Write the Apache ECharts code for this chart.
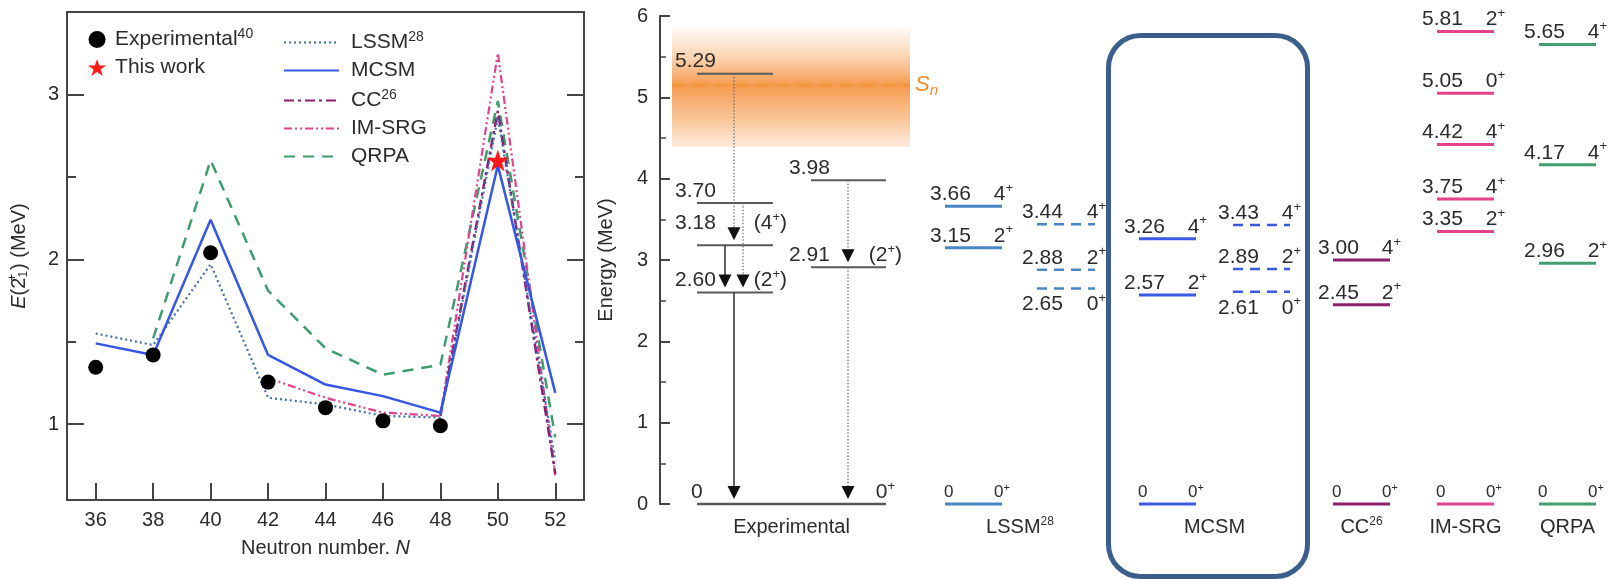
<!DOCTYPE html>
<html>
<head>
<meta charset="utf-8">
<script src="https://cdn.jsdelivr.net/npm/echarts@6/dist/echarts.min.js"></script>
<style>
  html, body { margin: 0; padding: 0; background: #fff; }
  #chart { width: 1615px; height: 579px; }
</style>
</head>
<body>
<div id="chart"></div>
<script>
// ---------- Left panel: E(2+1) systematics of the Ni isotopes ----------
const neutronNumbers = [36, 38, 40, 42, 44, 46, 48, 50, 52];
const expN = [36, 38, 40, 42, 44, 46, 48];
const expE2 = [1.345, 1.42, 2.04, 1.255, 1.10, 1.02, 0.99];
const thisWorkN = [50];
const thisWorkE2 = [2.60];
const lssmE2 = [1.55, 1.48, 1.97, 1.16, 1.12, 1.05, 1.04, 2.86, 0.78];
const mcsmE2 = [1.49, 1.42, 2.24, 1.42, 1.24, 1.17, 1.07, 2.57, 1.19];
const ccN = [48, 50, 52];
const ccE2 = [1.05, 2.90, 0.70];
const imsrgN = [42, 44, 46, 48, 50, 52];
const imsrgE2 = [1.28, 1.16, 1.07, 1.05, 3.25, 0.69];
const qrpaN = [38, 40, 42, 44, 46, 48, 50, 52];
const qrpaE2 = [1.52, 2.60, 1.81, 1.46, 1.30, 1.36, 2.96, 0.92];
const e2MajorTicks = [1, 2, 3];
const e2MinorTicks = [1.5, 2.5];

// ---------- Right panel: level scheme of 78Ni ----------
const expLevelsA = [5.29, 3.70, 3.18, 2.60];
const expSpinsA = ['', '', '(4+)', '(2+)'];
const expLevelsB = [3.98, 2.91];
const expSpinsB = ['', '(2+)'];
const expGround = [0];
const expGroundSpin = ['0+'];
const gammaFrom = [5.29, 3.70, 3.18, 2.60, 3.98, 2.91];
const gammaTo   = [3.18, 2.60, 2.60, 0,    2.91, 0];
const lssmLevels = [0, 3.15, 3.66];
const lssmSpins = ['0+', '2+', '4+'];
const lssmLevels2 = [2.65, 2.88, 3.44];
const lssmSpins2 = ['0+', '2+', '4+'];
const mcsmLevels = [0, 2.57, 3.26];
const mcsmSpins = ['0+', '2+', '4+'];
const mcsmLevels2 = [2.61, 2.89, 3.43];
const mcsmSpins2 = ['0+', '2+', '4+'];
const ccLevels = [0, 2.45, 3.00];
const ccSpins = ['0+', '2+', '4+'];
const imsrgLevels = [0, 3.35, 3.75, 4.42, 5.05, 5.81];
const imsrgSpins = ['0+', '2+', '4+', '4+', '0+', '2+'];
const qrpaLevels = [0, 2.96, 4.17, 5.65];
const qrpaSpins = ['0+', '2+', '4+', '4+'];
const snEnergy = [5.15];
const snBand = [4.39, 5.86];
const schemeGroups = ['Experimental', 'LSSM', 'MCSM', 'CC', 'IM-SRG', 'QRPA'];
const groupRefs = ['', '28', '', '26', '', ''];

// ---------- styling / layout ----------
const FONT = '"Liberation Sans", Arial, Helvetica, sans-serif';
const TXT = '#2b2b2b';
const AX = '#444';
const LVL_FS = 21;
const C = {
  lssm: '#3f6fb3', mcsm: '#3556e6', cc: '#8d1d70', imsrg: '#e2428d', qrpa: '#3f9c6c',
  lssmLvl: '#4a86c6', mcsmLvl: '#3a5ae2', ccLvl: '#8e1f6f', imsrgLvl: '#e4438c', qrpaLvl: '#42a070',
  expLvl: '#5a5a5a', orange: '#f28c2e'
};
// horizontal slots of the level-scheme columns (x axis of the right grid is in pixels)
const slot = {
  expA: [697, 773], expB: [811, 886], exp0: [697, 886],
  lssm: [945, 1002], lssm2: [1037, 1095],
  mcsm: [1139, 1196], mcsm2: [1233, 1290],
  cc: [1333, 1390], imsrg: [1437, 1494], qrpa: [1539, 1596],
  band: [672, 910]
};
// height of the value/spin labels above each experimental level
const expLift = [13, 12, 22, 12];

function spinRich(s) {
  // "4+" -> {n|4}{s|+} ; "(4+)" -> {n|(4}{s|+}{n|)}
  const m = s.match(/^(\(?)(\d)\+(\)?)$/);
  if (!m) return '';
  return '{n|' + m[1] + m[2] + '}{s|+}' + (m[3] ? '{n|' + m[3] + '}' : '');
}
function richStyles(fs) {
  return {
    n: { fontSize: fs, fontFamily: FONT, fill: TXT, color: TXT },
    s: { fontSize: Math.round(fs * 0.62), fontFamily: FONT, fill: TXT, color: TXT, padding: [0, 0, Math.round(fs * 0.55), 0] }
  };
}

// assemble the level list for the custom series
const levelItems = [];
function addLevels(energies, spins, span, style, lifts, group, groupSpan) {
  energies.forEach((E, i) => {
    levelItems.push({
      E: E, spin: spins[i], x1: span[0], x2: span[1],
      color: style.color, width: style.width, fs: style.fs, vIn: style.vIn, sOut: style.sOut,
      dashed: !!style.dashed,
      lift: lifts ? lifts[i] : 12,
      below: !!style.dashed && spins[i] === '0+',
      group: (E === 0 && group !== undefined) ? group : undefined,
      groupSpan: groupSpan || span
    });
  });
}
const expStyle = (sOut) => ({ color: C.expLvl, width: 2, fs: LVL_FS, vIn: 22, sOut: sOut });
const thStyle = (color, dashed) => ({ color: color, width: dashed ? 2.5 : 3, fs: LVL_FS, vIn: 15, sOut: 11, dashed: dashed });
addLevels(expLevelsA, expSpinsA, slot.expA, expStyle(14), expLift);
addLevels(expLevelsB, expSpinsB, slot.expB, expStyle(16));
addLevels(expGround, expGroundSpin, slot.exp0, { color: C.expLvl, width: 2.5, fs: LVL_FS, vIn: 6, sOut: 9 }, null, 0);
addLevels(lssmLevels, lssmSpins, slot.lssm, thStyle(C.lssmLvl), null, 1, [slot.lssm[0], slot.lssm2[1]]);
addLevels(lssmLevels2, lssmSpins2, slot.lssm2, thStyle(C.lssmLvl, true));
addLevels(mcsmLevels, mcsmSpins, slot.mcsm, thStyle(C.mcsmLvl), null, 2, [slot.mcsm[0], slot.mcsm2[1]]);
addLevels(mcsmLevels2, mcsmSpins2, slot.mcsm2, thStyle(C.mcsmLvl, true));
addLevels(ccLevels, ccSpins, slot.cc, thStyle(C.ccLvl), null, 3);
addLevels(imsrgLevels, imsrgSpins, slot.imsrg, thStyle(C.imsrgLvl), null, 4);
addLevels(qrpaLevels, qrpaSpins, slot.qrpa, thStyle(C.qrpaLvl), null, 5);

// gamma transitions: x slot and line style per arrow
const gammaX = [734, 743, 725, 734, 848, 848];
const gammaSolid = [false, false, true, true, false, false];

function renderLevel(params, api) {
  const lv = levelItems[params.dataIndex];
  const E = api.value(1);
  const a = api.coord([lv.x1, E]);
  const b = api.coord([lv.x2, E]);
  const ground = E === 0;
  const small = ground && lv.group > 0;
  const fs = small ? 17 : lv.fs;
  const vIn = small ? 1 : lv.vIn;
  const sOut = small ? 8 : lv.sOut;
  const dy = lv.below ? 16 : -(ground ? 12 : lv.lift);
  const children = [{
    type: 'line',
    shape: { x1: a[0], y1: a[1], x2: b[0], y2: b[1] },
    style: { stroke: lv.color, lineWidth: lv.width, lineDash: lv.dashed ? [10, 7] : null }
  }, {
    type: 'text',
    style: {
      text: ground ? '0' : E.toFixed(2), x: a[0] - vIn, y: a[1] + dy,
      align: 'left', verticalAlign: 'middle', fontSize: fs, fontFamily: FONT, fill: TXT
    }
  }];
  if (lv.spin) {
    children.push({
      type: 'text',
      style: {
        text: spinRich(lv.spin), rich: richStyles(fs), x: b[0] + sOut, y: a[1] + dy,
        align: 'right', verticalAlign: 'middle', fill: TXT
      }
    });
  }
  if (lv.group !== undefined) {
    const span = lv.groupSpan;
    const cx = api.coord([(span[0] + span[1]) / 2, 0])[0];
    const ref = groupRefs[lv.group];
    children.push({
      type: 'text',
      style: {
        text: '{n|' + schemeGroups[lv.group] + '}' + (ref ? '{s|' + ref + '}' : ''),
        rich: richStyles(20), x: cx, y: a[1] + 23,
        align: 'center', verticalAlign: 'middle', fill: TXT
      }
    });
  }
  return { type: 'group', children: children };
}

function renderGamma(params, api) {
  const i = params.dataIndex;
  const x = gammaX[i];
  const top = api.coord([x, api.value(1)]);
  const bot = api.coord([x, api.value(2)]);
  const tip = bot[1] - 5;
  const headH = 13, headW = 6.5;
  return {
    type: 'group',
    children: [{
      type: 'line',
      shape: { x1: top[0], y1: top[1], x2: top[0], y2: tip - headH + 2 },
      style: gammaSolid[i]
        ? { stroke: '#3a3a3a', lineWidth: 1.6 }
        : { stroke: '#6a6a6a', lineWidth: 1.2, lineDash: [1.5, 1.8] }
    }, {
      type: 'polygon',
      shape: { points: [[top[0], tip], [top[0] - headW, tip - headH], [top[0] + headW, tip - headH]] },
      style: { fill: '#111' }
    }]
  };
}

function renderBand(params, api) {
  const y0 = api.coord([slot.band[0], snBand[1]]);
  const y1 = api.coord([slot.band[1], snBand[0]]);
  const sn = api.coord([slot.band[0], api.value(1)]);
  const snEnd = api.coord([slot.band[1], api.value(1)]);
  const h = y1[1] - y0[1];
  const f = (sn[1] - y0[1]) / h;
  return {
    type: 'group',
    children: [{
      type: 'rect',
      shape: { x: y0[0], y: y0[1], width: y1[0] - y0[0], height: h },
      style: {
        fill: new echarts.graphic.LinearGradient(0, 0, 0, 1, [
          { offset: 0, color: 'rgba(247,150,70,0.05)' },
          { offset: f * 0.55, color: 'rgba(246,142,55,0.42)' },
          { offset: f, color: 'rgba(244,132,40,0.82)' },
          { offset: 0.78, color: 'rgba(246,148,65,0.52)' },
          { offset: 1, color: 'rgba(248,170,110,0.25)' }
        ])
      }
    }, {
      type: 'line',
      shape: { x1: sn[0], y1: sn[1], x2: snEnd[0], y2: sn[1] },
      style: { stroke: '#f4953a', lineWidth: 3, lineDash: [13, 8] }
    }, {
      type: 'text',
      style: {
        text: '{s|S}{n|n}', x: snEnd[0] + 5, y: sn[1],
        align: 'left', verticalAlign: 'middle',
        rich: {
          s: { fontSize: 22, fontStyle: 'italic', fontFamily: FONT, fill: C.orange, color: C.orange },
          n: { fontSize: 15, fontStyle: 'italic', fontFamily: FONT, fill: C.orange, color: C.orange, padding: [12, 0, 0, 0] }
        }
      }
    }]
  };
}

const pairs = (xs, ys) => xs.map((x, i) => [x, ys[i]]);
const starPath = 'path://M50,0 L61.8,35.1 L99,35.1 L69,56.8 L80.3,91.9 L50,70.2 L19.7,91.9 L31,56.8 L1,35.1 L38.2,35.1 Z';

const legendRich = {
  t: { fontSize: 21, fontFamily: FONT, color: TXT },
  s: { fontSize: 14, fontFamily: FONT, color: TXT, padding: [0, 0, 11, 0] }
};
const legendNames = { 'Experimental': '{t|Experimental}{s|40}', 'LSSM': '{t|LSSM}{s|28}', 'CC': '{t|CC}{s|26}' };

const axisLineStyle = { color: AX, width: 2 };
const tickLbl = { fontSize: 20, fontFamily: FONT, color: TXT };

const option = {
  animation: false,
  backgroundColor: '#fff',
  grid: [
    { left: 67, top: 12, width: 517, height: 488 },
    { left: 660, top: 16, width: 955, height: 488 }
  ],
  legend: [{
    data: ['Experimental', 'This work'],
    orient: 'vertical', left: 83, top: 22,
    itemWidth: 20, itemHeight: 17, itemGap: 7,
    formatter: (n) => legendNames[n] || '{t|' + n + '}',
    textStyle: { rich: legendRich, padding: [0, 0, 0, 3] },
    selectedMode: false
  }, {
    data: ['LSSM', 'MCSM', 'CC', 'IM-SRG', 'QRPA'],
    orient: 'vertical', left: 278, top: 25,
    itemWidth: 55, itemHeight: 14, itemGap: 7,
    formatter: (n) => legendNames[n] || '{t|' + n + '}',
    textStyle: { rich: legendRich, padding: [0, 0, 0, 7] },
    itemStyle: { opacity: 0 },
    selectedMode: false
  }],
  xAxis: [{
    gridIndex: 0, type: 'value', min: 35, max: 53, position: 'bottom',
    axisLine: { lineStyle: axisLineStyle },
    axisTick: { inside: true, length: 17, customValues: neutronNumbers, lineStyle: { color: AX, width: 2 } },
    axisLabel: { customValues: neutronNumbers, margin: 10, ...tickLbl },
    splitLine: { show: false },
    name: '{n|Neutron number. }{i|N}', nameLocation: 'middle', nameGap: 38,
    nameTextStyle: { rich: { n: { fontSize: 20, fontFamily: FONT, color: TXT }, i: { fontSize: 20, fontFamily: FONT, fontStyle: 'italic', color: TXT } } }
  }, {
    gridIndex: 0, type: 'value', min: 35, max: 53, position: 'top',
    axisLine: { lineStyle: axisLineStyle }, axisTick: { show: false }, axisLabel: { show: false }, splitLine: { show: false }
  }, {
    gridIndex: 1, type: 'value', min: 660, max: 1615, show: false
  }],
  yAxis: [{
    gridIndex: 0, type: 'value', min: 0.54, max: 3.5, position: 'left',
    axisLine: { show: true, lineStyle: axisLineStyle },
    axisTick: { show: true, inside: true, length: 17, customValues: e2MajorTicks, lineStyle: { color: AX, width: 2 } },
    axisLabel: { customValues: e2MajorTicks, margin: 8, ...tickLbl },
    splitLine: { show: false },
    name: '{i|E}{n|(2}{u|+}{d|1}{n|) (MeV)}', nameLocation: 'middle', nameGap: 36, nameRotate: 90,
    nameTextStyle: {
      rich: {
        i: { fontSize: 20, fontFamily: FONT, fontStyle: 'italic', color: TXT },
        n: { fontSize: 20, fontFamily: FONT, color: TXT },
        u: { fontSize: 12, fontFamily: FONT, color: TXT, width: 0, padding: [0, 0, 12, 0] },
        d: { fontSize: 12, fontFamily: FONT, color: TXT, padding: [10, 1, 0, 0] }
      }
    }
  }, {
    gridIndex: 0, type: 'value', min: 0.54, max: 3.5, position: 'left',
    axisLine: { show: false },
    axisTick: { show: true, inside: true, length: 9, customValues: e2MinorTicks, lineStyle: { color: AX, width: 2 } },
    axisLabel: { show: false }, splitLine: { show: false }
  }, {
    gridIndex: 0, type: 'value', min: 0.54, max: 3.5, position: 'right',
    axisLine: { show: true, lineStyle: axisLineStyle },
    axisTick: { show: true, inside: true, length: 17, customValues: e2MajorTicks, lineStyle: { color: AX, width: 2 } },
    axisLabel: { show: false }, splitLine: { show: false }
  }, {
    gridIndex: 0, type: 'value', min: 0.54, max: 3.5, position: 'right',
    axisLine: { show: false },
    axisTick: { show: true, inside: true, length: 9, customValues: e2MinorTicks, lineStyle: { color: AX, width: 2 } },
    axisLabel: { show: false }, splitLine: { show: false }
  }, {
    gridIndex: 1, type: 'value', min: 0, max: 6, interval: 1, position: 'left',
    axisLine: { show: true, lineStyle: axisLineStyle },
    axisTick: { show: true, inside: true, length: 10, lineStyle: { color: AX, width: 2 } },
    minorTick: { show: true, splitNumber: 2, length: 6, lineStyle: { color: AX, width: 1.5 } },
    axisLabel: { margin: 12, ...tickLbl },
    splitLine: { show: false },
    name: 'Energy (MeV)', nameLocation: 'middle', nameGap: 44, nameRotate: 90,
    nameTextStyle: { fontSize: 20, fontFamily: FONT, color: TXT }
  }],
  series: [
    {
      name: 'QRPA', type: 'line', xAxisIndex: 0, yAxisIndex: 0, data: pairs(qrpaN, qrpaE2),
      symbol: 'none', lineStyle: { color: C.qrpa, width: 2.5, type: [11, 8] }, itemStyle: { color: C.qrpa }, z: 3
    },
    {
      name: 'IM-SRG', type: 'line', xAxisIndex: 0, yAxisIndex: 0, data: pairs(imsrgN, imsrgE2),
      symbol: 'none', lineStyle: { color: C.imsrg, width: 2.2, type: [8, 3, 2, 3, 2, 3] }, itemStyle: { color: C.imsrg }, z: 3
    },
    {
      name: 'CC', type: 'line', xAxisIndex: 0, yAxisIndex: 0, data: pairs(ccN, ccE2),
      symbol: 'none', lineStyle: { color: C.cc, width: 2.5, type: [10, 4, 3, 4] }, itemStyle: { color: C.cc }, z: 3
    },
    {
      name: 'LSSM', type: 'line', xAxisIndex: 0, yAxisIndex: 0, data: pairs(neutronNumbers, lssmE2),
      symbol: 'none', lineStyle: { color: C.lssm, width: 2.2, type: [2, 3] }, itemStyle: { color: C.lssm }, z: 4
    },
    {
      name: 'MCSM', type: 'line', xAxisIndex: 0, yAxisIndex: 0, data: pairs(neutronNumbers, mcsmE2),
      symbol: 'none', lineStyle: { color: C.mcsm, width: 2.5 }, itemStyle: { color: C.mcsm }, z: 5
    },
    {
      name: 'Experimental', type: 'scatter', xAxisIndex: 0, yAxisIndex: 0, data: pairs(expN, expE2),
      symbol: 'circle', symbolSize: 15, itemStyle: { color: '#000', opacity: 1 }, z: 6
    },
    {
      name: 'This work', type: 'scatter', xAxisIndex: 0, yAxisIndex: 0, data: pairs(thisWorkN, thisWorkE2),
      symbol: starPath, symbolSize: 22, itemStyle: { color: '#ff1a1a', opacity: 1 }, z: 7
    },
    {
      type: 'custom', xAxisIndex: 2, yAxisIndex: 4, renderItem: renderBand,
      data: snEnergy.map(e => [slot.band[0], e]), encode: { x: 0, y: 1 }, clip: false, z: 1, silent: true
    },
    {
      type: 'custom', xAxisIndex: 2, yAxisIndex: 4, renderItem: renderLevel,
      data: levelItems.map(l => [(l.x1 + l.x2) / 2, l.E]), encode: { x: 0, y: 1 }, clip: false, z: 3, silent: true
    },
    {
      type: 'custom', xAxisIndex: 2, yAxisIndex: 4, renderItem: renderGamma,
      data: gammaFrom.map((f, i) => [gammaX[i], f, gammaTo[i]]), encode: { x: 0, y: [1, 2] }, clip: false, z: 4, silent: true
    }
  ],
  graphic: [{
    type: 'rect', left: 1106, top: 33, silent: true,
    shape: { width: 199, height: 541, r: 32 },
    style: { fill: 'none', stroke: '#3b5f8d', lineWidth: 5 }
  }]
};

const chart = echarts.init(document.getElementById('chart'), null, { renderer: 'canvas' });
chart.setOption(option);
</script>
</body>
</html>
